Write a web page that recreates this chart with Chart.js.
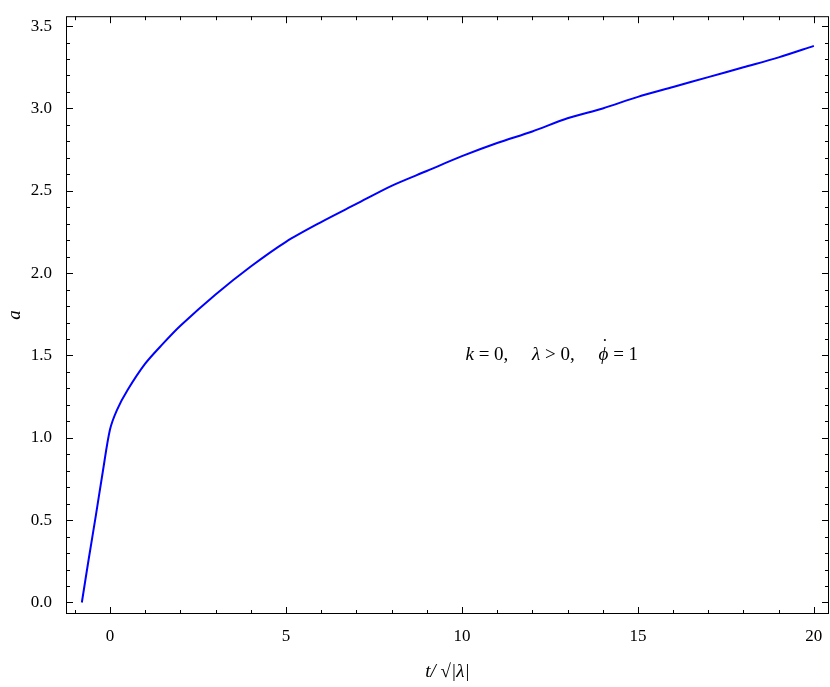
<!DOCTYPE html>
<html>
<head>
<meta charset="utf-8">
<script src="https://cdn.jsdelivr.net/npm/chart.js@4/dist/chart.umd.min.js"></script>
<style>
  html, body { margin: 0; padding: 0; background: #fff; }
  #wrap { width: 830px; height: 687px; }
</style>
</head>
<body>
<div id="wrap"><canvas id="chart"></canvas></div>
<script>
// Values
const tValues = [-0.8, -0.6, -0.4, -0.2, 0, 0.2, 0.5, 1, 1.5, 2, 3, 4, 5, 6, 7, 8, 9, 10, 11, 12, 13, 14, 15, 16, 17, 18, 19, 20];
const aValues = [0, 0.27, 0.53, 0.8, 1.05, 1.17, 1.29, 1.45, 1.57, 1.68, 1.87, 2.04, 2.19, 2.31, 2.42, 2.53, 2.62, 2.71, 2.79, 2.86, 2.94, 3.00, 3.07, 3.13, 3.19, 3.25, 3.31, 3.38];
const xTicks = [0, 5, 10, 15, 20];
const yTicks = [0.0, 0.5, 1.0, 1.5, 2.0, 2.5, 3.0, 3.5];

const FONT = '"Liberation Serif", "DejaVu Serif", serif';

// inward ticks + frame + annotation
const framePlugin = {
  id: 'frame',
  afterDraw(chart) {
    const { ctx, chartArea: a, scales: { x, y } } = chart;
    ctx.save();
    ctx.strokeStyle = '#000';
    ctx.lineWidth = 1;
    ctx.strokeRect(a.left + 0.5, a.top + 0.5, a.right - a.left - 1, a.bottom - a.top - 1);
    ctx.beginPath();
    for (let v = -1; v <= 20; v += 1) {
      const px = Math.round(x.getPixelForValue(v)) + 0.5;
      const len = xTicks.includes(v) ? 7 : 4;
      ctx.moveTo(px, a.bottom); ctx.lineTo(px, a.bottom - len);
      ctx.moveTo(px, a.top); ctx.lineTo(px, a.top + len);
    }
    for (let i = 0; i <= 35; i++) {
      const v = i / 10;
      const py = Math.round(y.getPixelForValue(v)) + 0.5;
      const len = i % 5 === 0 ? 7 : 4;
      ctx.moveTo(a.left, py); ctx.lineTo(a.left + len, py);
      ctx.moveTo(a.right, py); ctx.lineTo(a.right - len, py);
    }
    ctx.stroke();

    // annotation
    const px = x.getPixelForValue(10.1), py = y.getPixelForValue(1.5);
    ctx.fillStyle = '#000';
    ctx.textBaseline = 'middle';
    let cx = px;
    const parts = [['k', true], [' = 0,     ', false], ['λ', true], [' > 0,     ', false], ['ϕ', true], [' = 1', false]];
    parts.forEach(([s, it]) => {
      ctx.font = (it ? 'italic ' : '') + '19px ' + FONT;
      if (s === 'ϕ') {
        ctx.fillText('˙', cx + 2, py - 8);
      }
      ctx.fillText(s, cx, py);
      cx += ctx.measureText(s).width;
    });
    ctx.restore();
  }
};

new Chart(document.getElementById('chart'), {
  type: 'line',
  data: {
    datasets: [{
      data: tValues.map((t, i) => ({ x: t, y: aValues[i] })),
      borderColor: '#0000ff',
      borderWidth: 2,
      pointRadius: 0,
      tension: 0.3,
      fill: false
    }]
  },
  options: {
    responsive: true,
    maintainAspectRatio: false,
    animation: false,
    layout: { padding: { top: -5, right: 1, left: 0, bottom: 0 } },
    plugins: { legend: { display: false }, tooltip: { enabled: false } },
    scales: {
      x: {
        type: 'linear',
        min: -1.25, max: 20.43,
        afterFit: s => { s.height = 73; },
        afterBuildTicks: s => { s.ticks = xTicks.map(v => ({ value: v })); },
        grid: { display: false },
        border: { display: false },
        ticks: { color: '#000', font: { family: FONT, size: 17 }, padding: 4, maxRotation: 0 },
        title: { display: true, text: 't/ √|λ|', color: '#000', font: { family: FONT, size: 19, style: 'italic' }, padding: { top: 6 } }
      },
      y: {
        min: -0.07, max: 3.56,
        afterFit: s => { s.width = 66; },
        afterBuildTicks: s => { s.ticks = yTicks.map(v => ({ value: v })); },
        grid: { display: false },
        border: { display: false },
        ticks: { color: '#000', font: { family: FONT, size: 17 }, padding: 6, callback: v => v.toFixed(1) },
        title: { display: true, text: 'a', color: '#000', font: { family: FONT, size: 19, style: 'italic' }, padding: { bottom: 4 } }
      }
    }
  },
  plugins: [framePlugin]
});
</script>
</body>
</html>
